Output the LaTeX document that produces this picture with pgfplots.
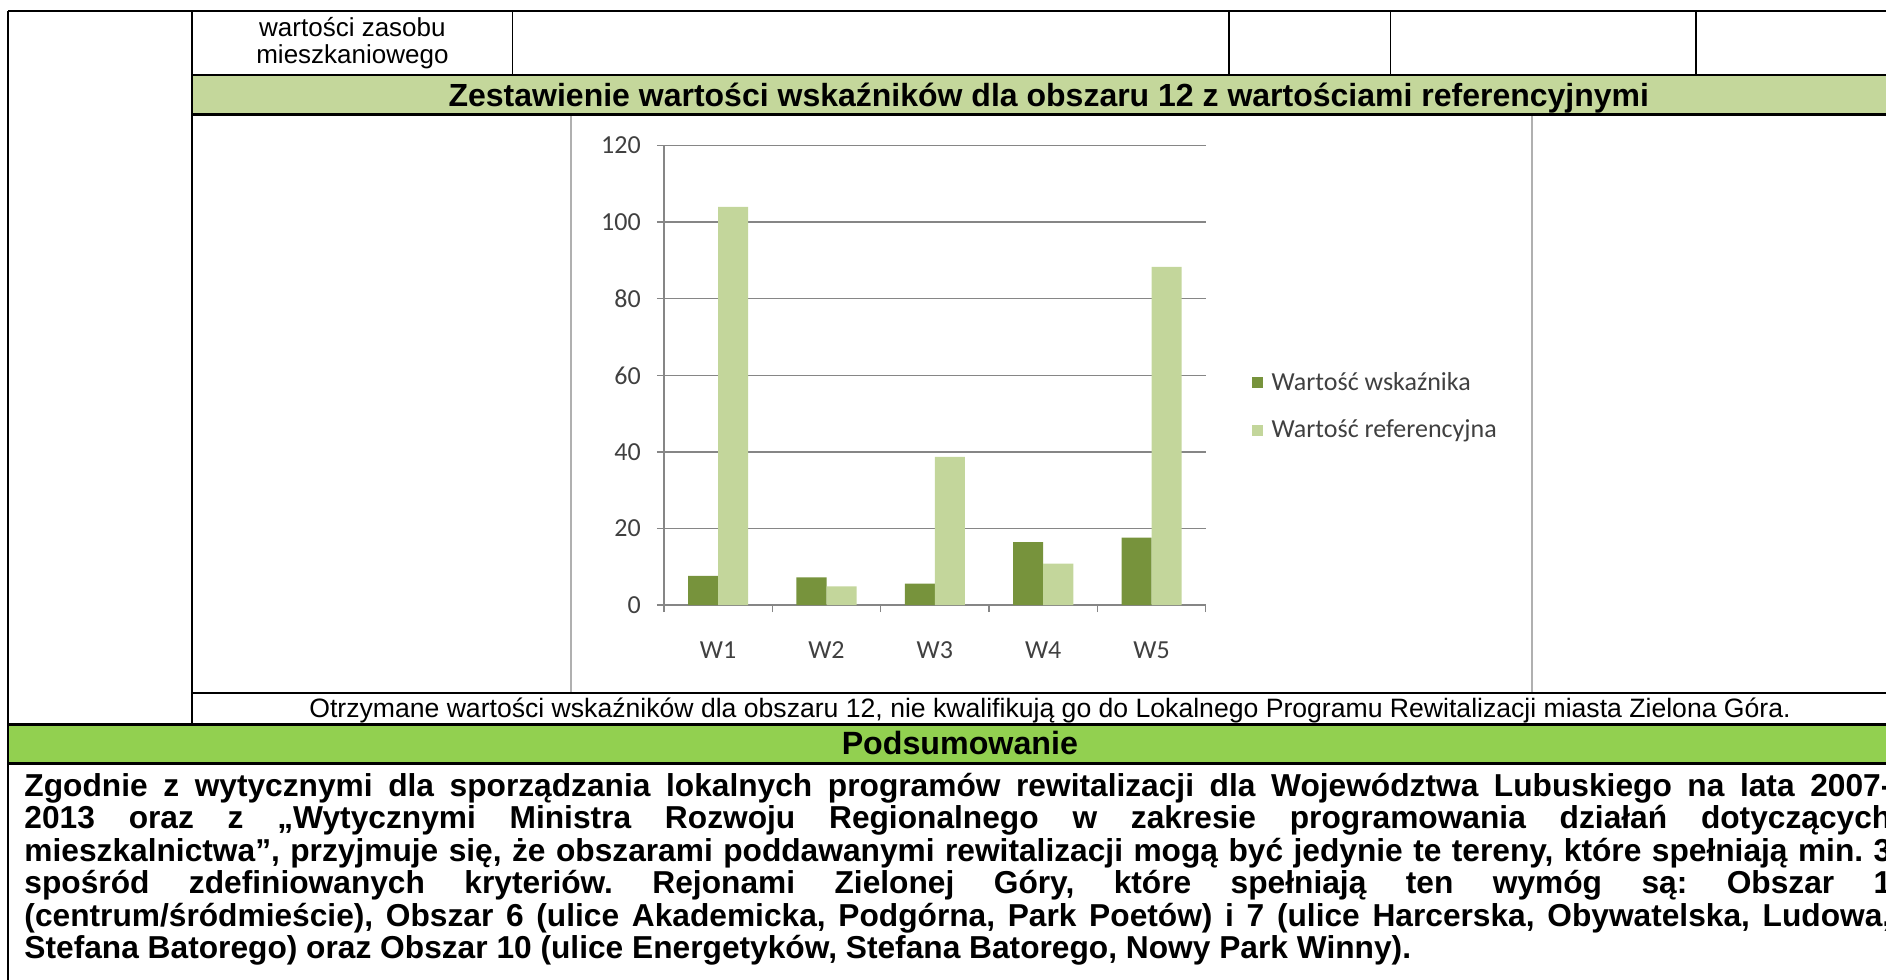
\documentclass[border=0pt]{standalone}
\usepackage{pgfplots}
\pgfplotsset{compat=1.18}
\usepackage{pgfplotstable}
\usepackage{fontspec}
\setmainfont{Liberation Sans}
\newfontfamily\calibri{Carlito}
\frenchspacing
\definecolor{darkg}{HTML}{77933C}
\definecolor{lightg}{HTML}{C3D69B}
\definecolor{bandl}{HTML}{C4D79B}
\definecolor{bandd}{HTML}{92D050}
\definecolor{gridc}{HTML}{868686}
\definecolor{framec}{HTML}{B0B0B0}
\pgfplotstableread{
x v r
0 7.6 104.0
1 7.2 4.9
2 5.6 38.7
3 16.4 10.8
4 17.6 88.3
}\data
\begin{document}
\begin{tikzpicture}
\def\u{0.6014pt}
\useasboundingbox (0,0) rectangle (1568*\u,-814*\u);
\clip (0,0) rectangle (1568*\u,-814*\u);
\begin{scope}[x=\u,y=-\u]
\fill[bandl] (160,62.6) rectangle (1620,95.2);
\fill[bandd] (7,602.3) rectangle (1620,634.8);
\draw[framec,line width=1pt] (474.5,95.2) rectangle (1274,576);
\draw[black,line width=1.2pt] (7,9.3) -- (1620,9.3);
\draw[black,line width=1pt] (160,62.6) -- (1620,62.6);
\draw[black,line width=1.2pt] (160,95.2) -- (1620,95.2);
\draw[black,line width=1.2pt] (160,576) -- (1620,576);
\draw[black,line width=1.2pt] (7,602.3) -- (1620,602.3);
\draw[black,line width=1.2pt] (7,634.8) -- (1620,634.8);
\draw[black,line width=1pt] (7,9.3) -- (7,830);
\draw[black,line width=1pt] (160,9.3) -- (160,602.3);
\foreach \xx in {426,1022,1156,1410} \draw[black,line width=0.8pt] (\xx,9.3) -- (\xx,62.6);
\node[anchor=base,inner sep=0pt,font=\fontsize{13}{15}\selectfont] at (293,30) {wartości zasobu};
\node[anchor=base,inner sep=0pt,font=\fontsize{13}{15}\selectfont] at (293,52.6) {mieszkaniowego};
\node[anchor=base,inner sep=0pt,font=\bfseries\fontsize{16}{18}\selectfont] at (872,88.5) {Zestawienie wartości wskaźników dla obszaru 12 z wartościami referencyjnymi};
\node[anchor=base,inner sep=0pt,font=\fontsize{13.3}{15}\selectfont] at (873,596.4) {Otrzymane wartości wskaźników dla obszaru 12, nie kwalifikują go do Lokalnego Programu Rewitalizacji miasta Zielona Góra.};
\node[anchor=base,inner sep=0pt,font=\bfseries\fontsize{16.1}{18}\selectfont] at (798,627.5) {Podsumowanie};
\begin{scope}[every node/.style={anchor=base west,inner sep=0pt,font=\bfseries\fontsize{15.85}{18}\selectfont}]
\node at (20,662) {\makebox[933.4pt][s]{Zgodnie z wytycznymi dla sporządzania lokalnych programów rewitalizacji dla Województwa Lubuskiego na lata 2007-}};
\node at (20,689) {\makebox[933.4pt][s]{2013 oraz z „Wytycznymi Ministra Rozwoju Regionalnego w zakresie programowania działań dotyczących}};
\node at (20,716) {\makebox[933.4pt][s]{mieszkalnictwa”, przyjmuje się, że obszarami poddawanymi rewitalizacji mogą być jedynie te tereny, które spełniają min. 3}};
\node at (20,743) {\makebox[933.4pt][s]{spośród zdefiniowanych kryteriów. Rejonami Zielonej Góry, które spełniają ten wymóg są: Obszar 1}};
\node at (20,770) {\makebox[933.4pt][s]{(centrum/śródmieście), Obszar 6 (ulice Akademicka, Podgórna, Park Poetów) i 7 (ulice Harcerska, Obywatelska, Ludowa,}};
\node at (20,797) {Stefana Batorego) oraz Obszar 10 (ulice Energetyków, Stefana Batorego, Nowy Park Winny).};
\end{scope}
\end{scope}
\begin{axis}[
  at={(552*\u,-503*\u)}, anchor=south west,
  scale only axis, width=270.9pt, height=229.7pt,
  xmin=-0.5, xmax=4.5, ymin=0, ymax=120, enlargelimits=false,
  ybar=0pt, bar width=15.04pt,
  xtick={-0.5,0.5,...,4.5}, xticklabels={W1,W2,W3,W4,W5}, x tick label as interval,
  ytick={0,20,...,120},
  ymajorgrids, grid style={gridc, line width=0.7pt},
  axis x line*=bottom, axis y line*=left,
  axis line style={gridc, line width=0.7pt, -},
  tick align=outside, major tick length=3.6pt,
  tick style={gridc, line width=0.7pt},
  /pgf/number format/assume math mode=true,
  ticklabel style={font=\calibri\fontsize{13}{15}\selectfont, text=black!75},
  yticklabel style={anchor=east, inner sep=0pt, xshift=-7.8pt},
  xticklabel style={anchor=center, inner sep=0pt, yshift=-19pt},
  legend style={at={(1.0855,0.432)}, anchor=west, draw=none, fill=none, inner sep=0pt,
    font=\calibri\fontsize{13}{15}\selectfont, text=black!75, row sep=13.3pt,
    nodes={inner sep=0pt},
    /tikz/every odd column/.append style={column sep=4.2pt}},
  legend cell align=left,
  legend image code/.code={\fill[#1] (0pt,-2.7pt) rectangle (5.4pt,2.7pt);},
]
\addplot[fill=darkg, draw=none] table[x=x,y=v]{\data};
\addplot[fill=lightg, draw=none] table[x=x,y=r]{\data};
\legend{Wartość wskaźnika, Wartość referencyjna}
\end{axis}
\end{tikzpicture}
\end{document}
